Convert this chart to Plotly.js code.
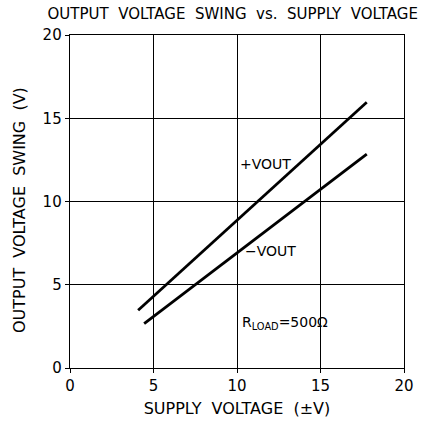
<!DOCTYPE html>
<html>
<head>
<meta charset="utf-8">
<script src="https://cdn.plot.ly/plotly-3.0.1.min.js"></script>
<style>html,body{margin:0;padding:0;background:#fff;}#chart{width:427px;height:423px;}</style>
</head>
<body>
<div id="chart"></div>
<script>
// Data
const supplyPos = [4.08, 17.77];
const voutPos = [3.47, 15.96];
const supplyNeg = [4.44, 17.77];
const voutNeg = [2.67, 12.85];
const xTicks = [0, 5, 10, 15, 20];
const yTicks = [0, 5, 10, 15, 20];
const labels = ["+VOUT", "\u2212VOUT", "R<sub>LOAD</sub>=500\u03A9"];
const labelX = [11.7, 12.0, 12.9];
const labelY = [12.25, 7.05, 2.68];

const font = "DejaVu Sans, Liberation Sans, sans-serif";
const traces = [
  {x: supplyPos, y: voutPos, mode: "lines", line: {color: "#000", width: 2.8}, hoverinfo: "skip"},
  {x: supplyNeg, y: voutNeg, mode: "lines", line: {color: "#000", width: 2.8}, hoverinfo: "skip"}
];
const axisCommon = {
  range: [0, 20], showgrid: true, gridcolor: "#000", gridwidth: 1,
  zeroline: false, showline: true, linecolor: "#000", linewidth: 1.3, mirror: true,
  ticks: "outside", ticklen: 4, tickcolor: "#000", tickwidth: 1,
  tickfont: {family: font, size: 15, color: "#000"}
};
const annots = labels.map((t, i) => ({
  x: labelX[i], y: labelY[i], xref: "x", yref: "y", text: t, showarrow: false,
  font: {family: font, size: 14, color: "#000"}, xanchor: "center", yanchor: "middle"
}));
annots.push({
  x: -0.153, y: 0.474, xref: "paper", yref: "paper", text: "OUTPUT  VOLTAGE  SWING  (V)",
  textangle: -90, showarrow: false, xanchor: "center", yanchor: "middle",
  font: {family: font, size: 16, color: "#000"}
});
const layout = {
  width: 427, height: 423,
  margin: {l: 70, r: 23, t: 35, b: 55},
  paper_bgcolor: "#fff", plot_bgcolor: "#fff",
  showlegend: false,
  title: {text: "OUTPUT  VOLTAGE  SWING  vs.  SUPPLY  VOLTAGE", font: {family: font, size: 15, color: "#000"}, x: 0.545, xanchor: "center", y: 0.967, yanchor: "middle"},
  xaxis: Object.assign({}, axisCommon, {tickvals: xTicks, ticktext: xTicks.map(String), title: {text: "SUPPLY  VOLTAGE  (\u00B1V)", font: {family: font, size: 16, color: "#000"}, standoff: 8}}),
  yaxis: Object.assign({}, axisCommon, {tickvals: yTicks, ticktext: yTicks.map(String)}),
  annotations: annots
};
Plotly.newPlot("chart", traces, layout, {staticPlot: true, displayModeBar: false});
</script>
</body>
</html>
